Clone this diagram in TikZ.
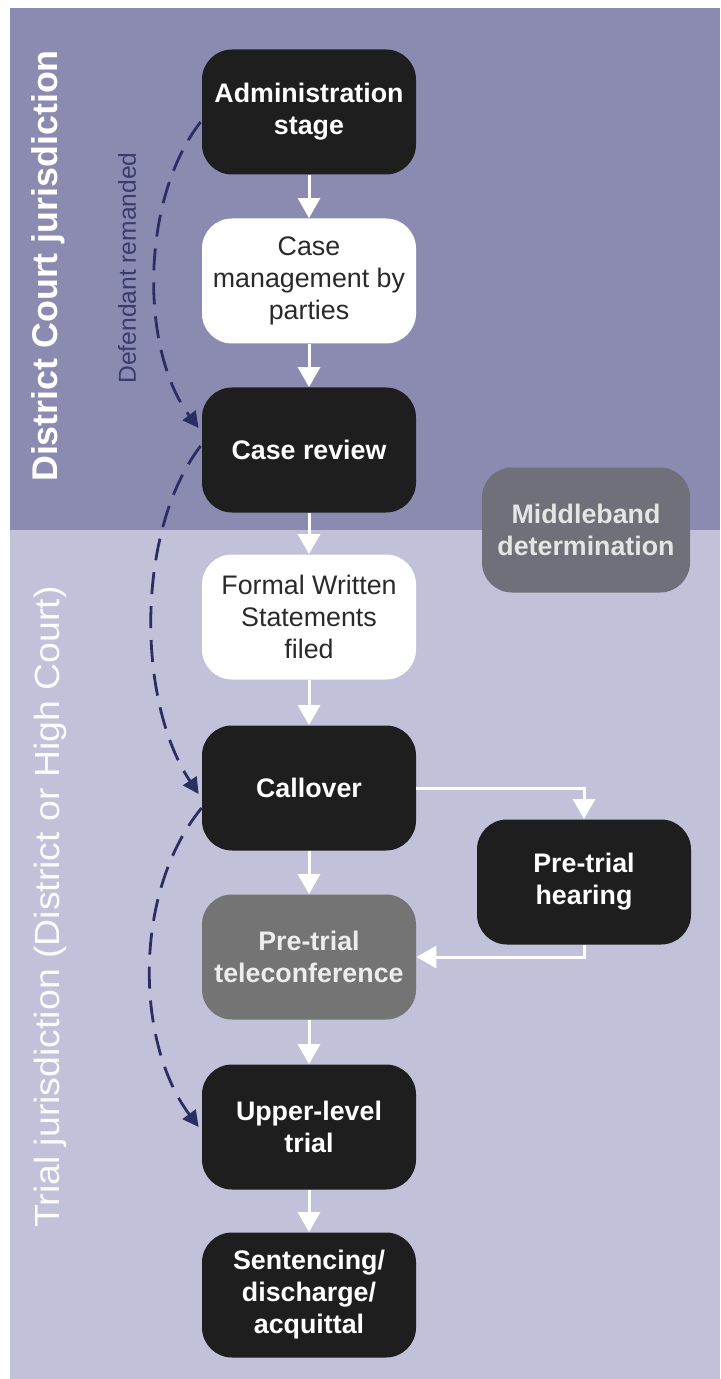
\documentclass[tikz,border=0pt]{standalone}
\usepackage{fontspec}
\setmainfont{Liberation Sans}
\usetikzlibrary{arrows.meta,calc}

\definecolor{bandtop}{RGB}{139,139,178}
\definecolor{bandlow}{RGB}{193,193,217}
\definecolor{boxdark}{RGB}{30,30,30}
\definecolor{boxgray}{RGB}{116,116,116}
\definecolor{boxmid}{RGB}{112,112,122}
\definecolor{navy}{RGB}{42,46,98}
\definecolor{navytext}{RGB}{58,60,108}
\definecolor{txtdark}{RGB}{42,42,42}

\begin{document}
\begin{tikzpicture}[x=0.5pt,y=-0.5pt,
  stagebox/.style={rounded corners=15pt, minimum width=107pt, minimum height=62.5pt,
    inner sep=2pt, align=center, text=white,
    font=\fontsize{13.4}{16}\selectfont\bfseries},
  darkstage/.style={stagebox, fill=boxdark},
  lightstage/.style={stagebox, fill=white, text=txtdark,
    font=\fontsize{13.4}{16}\selectfont},
  graystage/.style={stagebox, fill=boxgray, text=white!93!black},
  midstage/.style={stagebox, fill=boxmid, text=white!90!black},
  flow/.style={draw=white, line width=1.5pt, -{Triangle[length=10pt,width=11pt]}},
  remand/.style={draw=navy, line width=1.4pt, dash pattern=on 11pt off 6pt,
    -{Triangle[length=8pt,width=8pt]}},
  bandlabel/.style={rotate=90, text=white, inner sep=0pt}
]
\useasboundingbox (0,0) rectangle (720,1379);
\fill[white] (0,0) rectangle (720,1379);

% jurisdiction bands
\fill[bandtop] (10,8) rectangle (720,530);
\fill[bandlow] (10,530) rectangle (720,1379);

% band titles
\node[bandlabel, font=\fontsize{17.9}{18}\selectfont\bfseries] (dcj) at (48,266)
  {District Court jurisdiction};
\node[bandlabel, text=white!94!bandlow, font=\fontsize{17.5}{18}\selectfont] (tj) at (50,907)
  {\scalebox{1.07}[1]{Trial jurisdiction (District or High Court)}};

% process stages
\node[darkstage]  (admin)    at (309,112)  {Administration\\stage};
\node[lightstage] (mgmt)     at (309,281)  {Case\\management by\\parties};
\node[darkstage]  (review)   at (309,450)  {Case review};
\node[midstage, minimum width=104pt] (middle) at (586,530) {Middleband\\determination};
\node[lightstage] (formal)   at (309,617)  {Formal Written\\Statements\\filed};
\node[darkstage]  (callover) at (309,788)  {Callover};
\node[darkstage]  (hearing)  at (584,882)  {Pre-trial\\hearing};
\node[graystage]  (tele)     at (309,957)  {Pre-trial\\teleconference};
\node[darkstage]  (upper)    at (309,1127) {Upper-level\\trial};
\node[darkstage]  (sentence) at (309,1295) {Sentencing/\\discharge/\\acquittal};

% main flow
\draw[flow] (admin) -- (mgmt);
\draw[flow] (mgmt) -- (review);
\draw[flow] (review) -- (formal);
\draw[flow] (formal) -- (callover);
\draw[flow] (callover) -- (tele);
\draw[flow] (tele) -- (upper);
\draw[flow] (upper) -- (sentence);
\draw[flow] (callover.east) -| (hearing.north);
\draw[flow] (hearing.south) |- (tele.east);

% remand paths
\coordinate (r1s) at ($(admin.west)+(-1,10)$);
\coordinate (r1e) at ($(review.west)+(-3,-22)$);
\coordinate (r2s) at ($(review.west)+(-1,-4)$);
\coordinate (r2e) at ($(callover.west)+(-3,6)$);
\coordinate (r3s) at ($(callover.west)+(0,20)$);
\coordinate (r3e) at ($(upper.west)+(-3,0)$);
\draw[remand] (r1s) .. controls (140,200) and (140,350) .. (r1e);
\draw[remand] (r2s) .. controls (136,530) and (136,700) .. (r2e);
\draw[remand] (r3s) .. controls (134,890) and (134,1040) .. (r3e);

\node[rotate=90, text=navytext, inner sep=0pt, font=\fontsize{12.3}{13}\selectfont] (remlabel)
  at (127,268) {Defendant remanded};
\end{tikzpicture}
\end{document}
